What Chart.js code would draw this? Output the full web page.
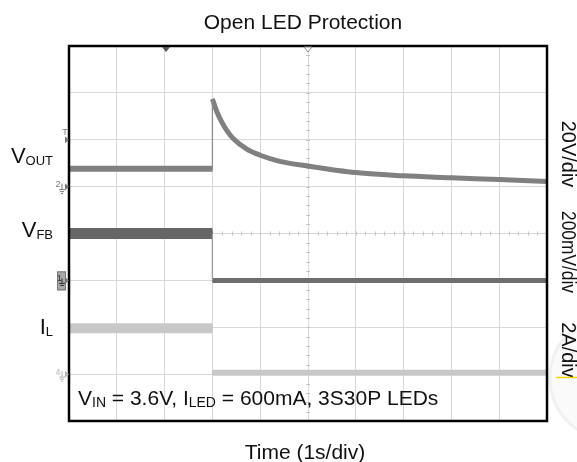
<!DOCTYPE html>
<html>
<head>
<meta charset="utf-8">
<script src="https://cdn.jsdelivr.net/npm/chart.js@4.4.1/dist/chart.umd.min.js"></script>
<style>
  html, body { margin: 0; padding: 0; background: #ffffff; }
  #wrap { width: 577px; height: 462px; }
</style>
</head>
<body>
<div id="wrap"><canvas id="c" width="577" height="462"></canvas></div>
<script>
// ---- Data (time in s, amplitude in screen divisions from bottom) ----
const tPre = [0, 3];
const voutPre = [5.38, 5.38];
const vfbPre = [4.0, 4.0];
const ilPre = [1.98, 1.98];

const tDecay = [3.0, 3.1, 3.2, 3.3, 3.44, 3.72, 4.0, 4.41, 5.0, 6.0, 7.0, 8.0, 9.0, 10.0];
const voutDecay = [6.87, 6.58, 6.37, 6.20, 6.02, 5.80, 5.67, 5.54, 5.44, 5.30, 5.23, 5.19, 5.15, 5.11];

const tPost = [3, 10];
const vfbPost = [3.0, 3.0];
const ilPost = [1.03, 1.03];

const tEdge = [3, 3];
const voutEdge = [5.38, 6.87];
const vfbEdge = [4.0, 3.0];

const xTicks = [0, 1, 2, 3, 4, 5, 6, 7, 8, 9, 10];
const yTicks = [0, 1, 2, 3, 4, 5, 6, 7, 8];

const titleText = 'Open LED Protection';
const xTitle = 'Time (1s/div)';
const scaleLabels = ['20V/div', '200mV/div', '2A/div'];
const noteParts = [['V', false], ['IN', true], [' = 3.6V, I', false], ['LED', true], [' = 600mA, 3S30P LEDs', false]];
const chanLabels = [[['V', false], ['OUT', true]], [['V', false], ['FB', true]], [['I', false], ['L', true]]];
const topMarkers = [2.03, 5.0];
const sideMarkers = [['T', 6], ['2', 5], ['1', 3], ['4', 1]];

const FONT = '"Liberation Sans", Arial, Helvetica, sans-serif';

function pts(xs, ys) { return xs.map((x, i) => ({ x: x, y: ys[i] })); }

function ds(xs, ys, color, width, extra) {
  return Object.assign({
    data: pts(xs, ys), borderColor: color, borderWidth: width,
    pointRadius: 0, fill: false, tension: 0, borderCapStyle: 'butt'
  }, extra || {});
}

const smooth = { cubicInterpolationMode: 'monotone', tension: 0.4 };

const datasets = [
  ds(tEdge, voutEdge, '#8c8c8c', 1.3),
  ds(tEdge, vfbEdge, '#9a9a9a', 1.3),
  // IL
  ds(tPre, ilPre, '#c8c8c8', 10),
  ds(tPre, ilPre, '#b0b0b0', 6),
  ds(tPost, ilPost, '#c8c8c8', 6),
  ds(tPost, ilPost, '#acacac', 3.5),
  // VFB
  ds(tPre, vfbPre, '#666666', 11),
  ds(tPre, vfbPre, '#363636', 7),
  ds(tPost, vfbPost, '#6e6e6e', 5),
  ds(tPost, vfbPost, '#363636', 3),
  // VOUT
  ds(tPre, voutPre, '#808080', 6),
  ds(tPre, voutPre, '#626262', 3.5),
  ds(tDecay, voutDecay, '#808080', 5, smooth),
  ds(tDecay, voutDecay, '#5e5e5e', 3, smooth)
];

function drawParts(ctx, parts, x, y, mainSize, subSize, subDrop, align) {
  const widths = parts.map(p => {
    ctx.font = (p[1] ? subSize : mainSize) + 'px ' + FONT;
    return ctx.measureText(p[0]).width;
  });
  const total = widths.reduce((a, b) => a + b, 0);
  let cx = align === 'right' ? x - total : (align === 'center' ? x - total / 2 : x);
  ctx.textAlign = 'left';
  ctx.textBaseline = 'alphabetic';
  parts.forEach((p, i) => {
    ctx.font = (p[1] ? subSize : mainSize) + 'px ' + FONT;
    ctx.fillText(p[0], cx, y + (p[1] ? subDrop : 0));
    cx += widths[i];
  });
}

const scopePlugin = {
  id: 'scope',
  beforeDraw(chart) {
    const ctx = chart.ctx;
    ctx.save();
    ctx.fillStyle = '#ffffff';
    ctx.fillRect(0, 0, chart.width, chart.height);
    ctx.fillStyle = '#fafafa';
    ctx.beginPath();
    ctx.arc(612, 378, 62, 0, Math.PI * 2);
    ctx.fill();
    ctx.strokeStyle = '#f1f1f1';
    ctx.lineWidth = 3;
    ctx.stroke();
    ctx.restore();
  },
  beforeDatasetsDraw(chart) {
    const ctx = chart.ctx;
    const xs = chart.scales.x, ys = chart.scales.y;
    ctx.save();
    ctx.strokeStyle = '#c4c4c4';
    ctx.lineWidth = 1;
    const yc = ys.getPixelForValue(4);
    const xc = xs.getPixelForValue(5);
    for (let v = 0.2; v < 10; v += 0.2) {
      const px = Math.round(xs.getPixelForValue(v)) + 0.5;
      ctx.beginPath(); ctx.moveTo(px, yc - 2); ctx.lineTo(px, yc + 2); ctx.stroke();
    }
    for (let v = 0.2; v < 8; v += 0.2) {
      const py = Math.round(ys.getPixelForValue(v)) + 0.5;
      ctx.beginPath(); ctx.moveTo(xc - 2, py); ctx.lineTo(xc + 2, py); ctx.stroke();
    }
    ctx.restore();
  },
  afterDraw(chart) {
    const ctx = chart.ctx;
    const xs = chart.scales.x, ys = chart.scales.y;
    const a = chart.chartArea;
    ctx.save();
    ctx.strokeStyle = '#000000';
    ctx.lineWidth = 2.5;
    ctx.strokeRect(a.left, a.top, a.right - a.left, a.bottom - a.top);

    topMarkers.forEach((t, i) => {
      const px = xs.getPixelForValue(t);
      ctx.beginPath();
      ctx.moveTo(px - 4, a.top + 1);
      ctx.lineTo(px + 4, a.top + 1);
      ctx.lineTo(px, a.top + 6);
      ctx.closePath();
      if (i === 0) { ctx.fillStyle = '#555555'; ctx.fill(); }
      else { ctx.fillStyle = '#ffffff'; ctx.fill(); ctx.strokeStyle = '#888888'; ctx.lineWidth = 1; ctx.stroke(); }
    });

    sideMarkers.forEach((m, i) => {
      const py = ys.getPixelForValue(m[1]);
      const col = i === 3 ? '#b5b5b5' : '#777777';
      ctx.fillStyle = col;
      ctx.strokeStyle = col;
      ctx.lineWidth = 1;
      ctx.beginPath();
      ctx.moveTo(a.left - 4, py - 3.5);
      ctx.lineTo(a.left, py);
      ctx.lineTo(a.left - 4, py + 3.5);
      ctx.closePath();
      ctx.fill();
      ctx.font = '9px ' + FONT;
      ctx.textAlign = 'center';
      ctx.textBaseline = 'middle';
      if (m[0] === 'T') {
        ctx.fillText('T', a.left - 4, py - 7);
      } else if (m[0] === '1') {
        ctx.fillStyle = '#a8a8a8';
        ctx.fillRect(a.left - 12, py - 9, 9, 19);
        ctx.strokeStyle = '#777777';
        ctx.strokeRect(a.left - 12 + 0.5, py - 9 + 0.5, 8, 18);
        ctx.fillStyle = '#333333';
        ctx.fillText('1', a.left - 9.5, py - 2);
        ctx.beginPath();
        ctx.moveTo(a.left - 7, py - 2); ctx.lineTo(a.left - 7, py + 3);
        ctx.moveTo(a.left - 10, py + 3); ctx.lineTo(a.left - 4, py + 3);
        ctx.moveTo(a.left - 9, py + 5); ctx.lineTo(a.left - 5, py + 5);
        ctx.strokeStyle = '#333333';
        ctx.stroke();
      } else {
        ctx.fillText(m[0], a.left - 11, py - 2);
        ctx.beginPath();
        ctx.moveTo(a.left - 7, py - 3); ctx.lineTo(a.left - 7, py + 3);
        ctx.moveTo(a.left - 10, py + 3); ctx.lineTo(a.left - 4, py + 3);
        ctx.moveTo(a.left - 9, py + 5); ctx.lineTo(a.left - 5, py + 5);
        ctx.moveTo(a.left - 8, py + 7); ctx.lineTo(a.left - 6, py + 7);
        ctx.stroke();
      }
    });

    ctx.fillStyle = '#111111';
    ctx.font = '21px ' + FONT;
    ctx.textAlign = 'center';
    ctx.textBaseline = 'alphabetic';
    ctx.fillText(titleText, 303, 29);
    ctx.fillText(xTitle, 305, 459);

    drawParts(ctx, chanLabels[0], 53, 163, 22, 13, 2, 'right');
    drawParts(ctx, chanLabels[1], 53, 237, 22, 13, 2, 'right');
    drawParts(ctx, chanLabels[2], 53, 334, 22, 13, 2, 'right');

    drawParts(ctx, noteParts, 78, 405, 21, 14, 2, 'left');

    const centers = [154, 252, 350];
    const maxW = [68, 82, 56];
    ctx.font = '20px ' + FONT;
    scaleLabels.forEach((s, i) => {
      ctx.save();
      ctx.translate(568, centers[i]);
      ctx.rotate(Math.PI / 2);
      ctx.textAlign = 'center';
      ctx.textBaseline = 'middle';
      ctx.fillText(s, 0, 0, maxW[i]);
      ctx.restore();
    });
    ctx.strokeStyle = '#f2d600';
    ctx.lineWidth = 1.5;
    ctx.beginPath();
    ctx.moveTo(556, 377.5); ctx.lineTo(577, 377.5);
    ctx.stroke();
    ctx.restore();
  }
};

new Chart(document.getElementById('c'), {
  type: 'line',
  data: { datasets: datasets },
  options: {
    responsive: false,
    animation: false,
    events: [],
    layout: { padding: { left: 69, right: 30, top: 46, bottom: 41 } },
    plugins: { legend: { display: false }, tooltip: { enabled: false }, title: { display: false } },
    scales: {
      x: {
        type: 'linear', min: 0, max: 10,
        afterBuildTicks: s => { s.ticks = xTicks.map(v => ({ value: v })); },
        afterFit: s => { s.height = 0; },
        ticks: { display: false },
        grid: { color: '#d8d8d8', lineWidth: 1, drawTicks: false },
        border: { display: false }
      },
      y: {
        type: 'linear', min: 0, max: 8,
        afterBuildTicks: s => { s.ticks = yTicks.map(v => ({ value: v })); },
        afterFit: s => { s.width = 0; },
        ticks: { display: false },
        grid: { color: '#d8d8d8', lineWidth: 1, drawTicks: false },
        border: { display: false }
      }
    }
  },
  plugins: [scopePlugin]
});
</script>
</body>
</html>
